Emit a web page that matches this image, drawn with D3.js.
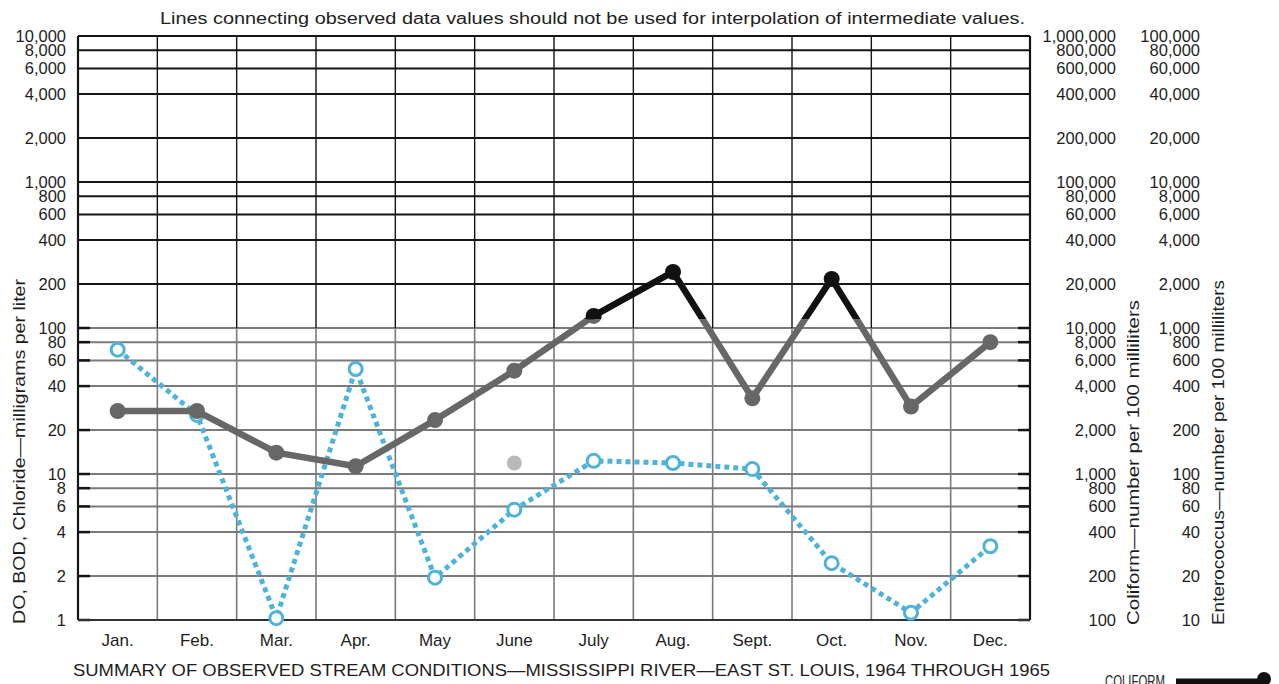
<!DOCTYPE html>
<html>
<head>
<meta charset="utf-8">
<script src="https://cdn.jsdelivr.net/npm/d3@7/dist/d3.min.js"></script>
<style>
  html, body { margin: 0; padding: 0; background: #fff; }
  svg { display: block; }
  text { font-family: "Liberation Sans", Arial, "DejaVu Sans", sans-serif; fill: #1e1e1e; }
</style>
</head>
<body>
<svg id="chart" width="1279" height="684"></svg>
<script>
// ---------- data ----------
const months = ["Jan.", "Feb.", "Mar.", "Apr.", "May", "June", "July", "Aug.", "Sept.", "Oct.", "Nov.", "Dec."];
// Coliform — number per 100 milliliters (dark solid line)
const coliform = [2700, 2700, 1400, 1130, 2340, 5100, 12100, 24200, 3300, 21700, 2900, 8000];
// Left-axis series (mg/l) — blue dotted line with open circles
const blueSeries = [71, 25.4, 1.03, 52.4, 1.95, 5.7, 12.3, 11.9, 10.8, 2.45, 1.12, 3.2];
// single grey observation (mg/l) in June
const greyPointMonth = "June";
const greyPointValue = 11.9;

const leftTicks = [1, 2, 4, 6, 8, 10, 20, 40, 60, 80, 100, 200, 400, 600, 800, 1000, 2000, 4000, 6000, 8000, 10000];
const coliformTicks = [100, 200, 400, 600, 800, 1000, 2000, 4000, 6000, 8000, 10000, 20000, 40000, 60000, 80000, 100000, 200000, 400000, 600000, 800000, 1000000];
const enteroTicks = [10, 20, 40, 60, 80, 100, 200, 400, 600, 800, 1000, 2000, 4000, 6000, 8000, 10000, 20000, 40000, 60000, 80000, 100000];

const noteText = "Lines connecting observed data values should not be used for interpolation of intermediate values.";
const titleText = "SUMMARY OF OBSERVED STREAM CONDITIONS\u2014MISSISSIPPI RIVER\u2014EAST ST. LOUIS, 1964 THROUGH 1965";
const leftTitle = "DO, BOD, Chloride\u2014milligrams per liter";
const coliTitle = "Coliform\u2014number per 100 milliliters";
const enteroTitle = "Enterococcus\u2014number per 100 milliliters";
const legendLabel = "COLIFORM";

// ---------- layout ----------
const L = 78, R = 1030, T = 36, B = 620;
const svg = d3.select("#chart");

const x = d3.scaleBand().domain(months).range([L, R]).padding(0);
const xc = m => x(m) + x.bandwidth() / 2;
const yL = d3.scaleLog().domain([1, 10000]).range([B, T]);
const yC = d3.scaleLog().domain([100, 1000000]).range([B, T]);
const yE = d3.scaleLog().domain([10, 100000]).range([B, T]);

const BLACK = "#151515", GREY = "#7a7a7a";
const splitY = yL(100);

// ---------- grid ----------
const grid = svg.append("g");
leftTicks.forEach(v => {
  const yy = yL(v);
  const dark = v >= 200;
  grid.append("line").attr("x1", L).attr("x2", R).attr("y1", yy).attr("y2", yy)
    .attr("stroke", dark ? BLACK : GREY).attr("stroke-width", 2);
  if (!dark) {
    grid.append("line").attr("x1", L).attr("x2", L + 12).attr("y1", yy).attr("y2", yy)
      .attr("stroke", BLACK).attr("stroke-width", 2.5);
    grid.append("line").attr("x1", R - 12).attr("x2", R).attr("y1", yy).attr("y2", yy)
      .attr("stroke", BLACK).attr("stroke-width", 2.5);
  }
});
months.slice(1).forEach(m => {
  const xx = x(m);
  grid.append("line").attr("x1", xx).attr("x2", xx).attr("y1", T).attr("y2", splitY)
    .attr("stroke", BLACK).attr("stroke-width", 1.4);
  grid.append("line").attr("x1", xx).attr("x2", xx).attr("y1", splitY).attr("y2", B)
    .attr("stroke", GREY).attr("stroke-width", 1.6);
});
// frame
grid.append("line").attr("x1", L).attr("x2", L).attr("y1", T).attr("y2", B).attr("stroke", BLACK).attr("stroke-width", 2.2);
grid.append("line").attr("x1", R).attr("x2", R).attr("y1", T).attr("y2", B).attr("stroke", BLACK).attr("stroke-width", 2.2);
grid.append("line").attr("x1", L).attr("x2", R).attr("y1", B).attr("y2", B).attr("stroke", "#333").attr("stroke-width", 2.2);

// ---------- axes labels ----------
const fmt = d3.format(",");
function styleAxis(g) {
  g.select(".domain").remove();
  g.selectAll("text").attr("font-size", 16.5).attr("fill", "#1e1e1e")
    .attr("font-family", "'Liberation Sans', Arial, sans-serif");
}
const leftAxis = d3.axisLeft(yL).tickValues(leftTicks).tickFormat(fmt).tickSize(0).tickPadding(0);
styleAxis(svg.append("g").attr("transform", `translate(${L - 12},0)`).call(leftAxis));

const coliAxis = d3.axisLeft(yC).tickValues(coliformTicks).tickFormat(fmt).tickSize(0).tickPadding(0);
styleAxis(svg.append("g").attr("transform", `translate(1116,0)`).call(coliAxis));

const entAxis = d3.axisLeft(yE).tickValues(enteroTicks).tickFormat(fmt).tickSize(0).tickPadding(0);
styleAxis(svg.append("g").attr("transform", `translate(1200,0)`).call(entAxis));

// month labels
const xAxis = d3.axisBottom(x).tickSize(0).tickPadding(0);
const gx = svg.append("g").attr("transform", `translate(0,${B + 14})`).call(xAxis);
gx.select(".domain").remove();
gx.selectAll("text").attr("font-size", 17).attr("fill", "#1e1e1e")
  .attr("font-family", "'Liberation Sans Narrow', 'Liberation Sans', Arial, sans-serif");

// titles
svg.append("text").attr("x", 160).attr("y", 24).attr("font-size", 16)
  .attr("textLength", 865).attr("lengthAdjust", "spacingAndGlyphs")
  .style("font-family", "'Liberation Sans Narrow', 'Liberation Sans', sans-serif").text(noteText);
svg.append("text").attr("x", 73).attr("y", 676).attr("font-size", 17)
  .attr("textLength", 977).attr("lengthAdjust", "spacingAndGlyphs")
  .style("font-family", "'Liberation Sans Narrow', 'Liberation Sans', sans-serif").text(titleText);

function vtitle(txt, xx, yStart, len) {
  svg.append("text").attr("transform", `translate(${xx},${yStart}) rotate(-90)`)
    .attr("font-size", 17).attr("textLength", len).attr("lengthAdjust", "spacingAndGlyphs")
    .style("font-family", "'Liberation Sans Narrow', 'Liberation Sans', sans-serif").text(txt);
}
vtitle(leftTitle, 25, 624, 345);
vtitle(coliTitle, 1139, 625, 325);
vtitle(enteroTitle, 1224, 625, 345);

// ---------- series ----------
const defs = svg.append("defs");
defs.append("clipPath").attr("id", "clipTop").append("rect")
  .attr("x", 0).attr("y", 0).attr("width", 1279).attr("height", yL(115));
defs.append("clipPath").attr("id", "clipBottom").append("rect")
  .attr("x", 0).attr("y", yL(115)).attr("width", 1279).attr("height", 684);

const coliPts = months.map((m, i) => [xc(m), yC(coliform[i])]);
const line = d3.line();

// blue dotted series
const bluePts = months.map((m, i) => [xc(m), yL(blueSeries[i])]);
const BLUE = "#4fb3d9";
svg.append("path").attr("d", line(bluePts)).attr("fill", "none")
  .attr("stroke", BLUE).attr("stroke-width", 5).attr("stroke-dasharray", "5,4");
svg.selectAll("circle.blue").data(bluePts).join("circle").attr("class", "blue")
  .attr("cx", d => d[0]).attr("cy", d => d[1]).attr("r", 6.5)
  .attr("fill", "#fff").attr("stroke", BLUE).attr("stroke-width", 3);

// grey single point
svg.append("circle").attr("cx", xc(greyPointMonth)).attr("cy", yL(greyPointValue)).attr("r", 7.5)
  .attr("fill", "#b9b9b9");

// coliform line (grey below, black above)
[["clipBottom", "#676767"], ["clipTop", "#111"]].forEach(([clip, col]) => {
  const g = svg.append("g").attr("clip-path", `url(#${clip})`);
  g.append("path").attr("d", line(coliPts)).attr("fill", "none")
    .attr("stroke", col).attr("stroke-width", 6.5).attr("stroke-linejoin", "round");
  g.selectAll("circle").data(coliPts).join("circle")
    .attr("cx", d => d[0]).attr("cy", d => d[1]).attr("r", 8).attr("fill", col);
});

// legend (partially cut at bottom edge, as in the reference)
svg.append("text").attr("x", 1105).attr("y", 687).attr("font-size", 17)
  .attr("textLength", 60).attr("lengthAdjust", "spacingAndGlyphs")
  .style("font-family", "'Liberation Sans Narrow', 'Liberation Sans', sans-serif").text(legendLabel);
svg.append("line").attr("x1", 1176).attr("x2", 1264).attr("y1", 682).attr("y2", 682)
  .attr("stroke", "#111").attr("stroke-width", 7);
svg.append("circle").attr("cx", 1264).attr("cy", 679).attr("r", 7).attr("fill", "#111");
</script>
</body>
</html>
